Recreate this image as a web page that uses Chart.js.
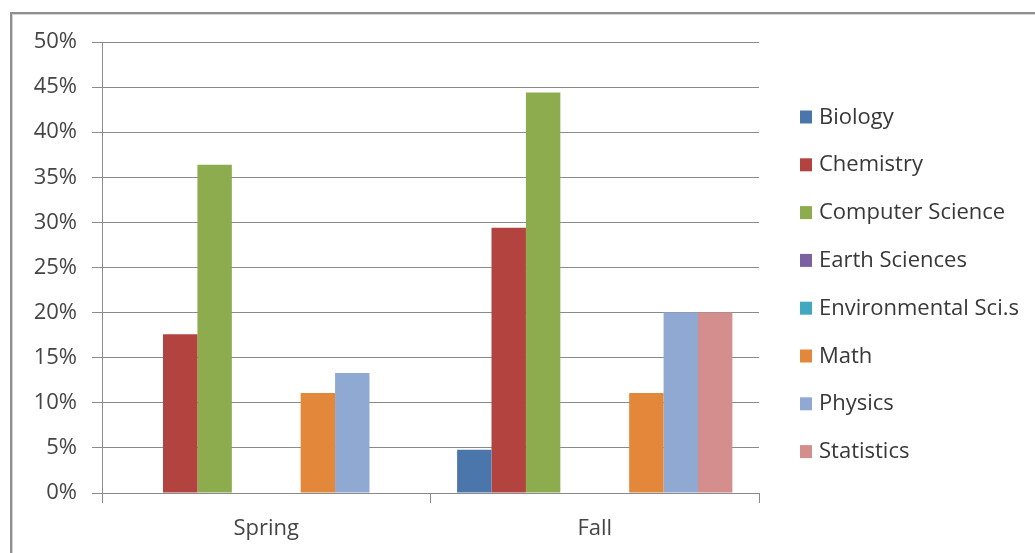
<!DOCTYPE html>
<html>
<head>
<meta charset="utf-8">
<title>Enrollment share by subject</title>
<script src="https://cdn.jsdelivr.net/npm/chart.js@4/dist/chart.umd.min.js"></script>
<style>
  html, body { margin: 0; padding: 0; background: #ffffff; overflow: hidden; }
  #wrap { position: relative; width: 1035px; height: 553px; overflow: hidden; }
  #frame {
    position: absolute; left: 10px; top: 12px; width: 1100px; height: 700px;
    border-left: 2px solid #8f8f8f; border-top: 2px solid #8f8f8f;
    box-shadow: inset 1px 1px 0 #d4d4d4;
  }
  #chart { position: absolute; left: 0; top: 0; }
</style>
</head>
<body>
<div id="wrap">
  <div id="frame"></div>
  <canvas id="chart" width="1035" height="553"></canvas>
</div>
<script>
// Terms shown along the horizontal axis
const terms = ['Spring', 'Fall'];

// Subjects (one bar series each)
const subjects = [
  'Biology', 'Chemistry', 'Computer Science', 'Earth Sciences',
  'Environmental Sci.s', 'Math', 'Physics', 'Statistics'
];

// Share of students per subject, in percent, for each term
const springShare = [0, 17.6, 36.4, 0, 0, 11.1, 13.3, 0];
const fallShare   = [4.8, 29.4, 44.4, 0, 0, 11.1, 20.0, 20.0];

// Value axis ticks
const yMin = 0;
const yMax = 50;
const yStep = 5;

// Series colours
const subjectColors = [
  '#4a76ac', '#b2433f', '#8cac4e', '#7c60a0',
  '#41a8be', '#e3883b', '#8fa9d3', '#d48e8d'
];

const FONT = "'Open Sans', 'DejaVu Sans', sans-serif";
const GRID = '#8a8a8a';
const TEXT = '#454545';

const datasets = subjects.map((name, i) => ({
  label: name,
  data: [springShare[i], fallShare[i]],
  backgroundColor: subjectColors[i],
  borderWidth: 0,
  barPercentage: 1.0,
  categoryPercentage: 0.838
}));

// Legend drawn at the right of the plot: square swatch plus label
const sideLegend = {
  id: 'sideLegend',
  afterDraw(chart) {
    const ctx = chart.ctx;
    ctx.save();
    ctx.font = '22px ' + FONT;
    ctx.textAlign = 'left';
    ctx.textBaseline = 'alphabetic';
    chart.data.datasets.forEach((ds, i) => {
      const rowTop = 110.5 + i * 47.8;
      ctx.fillStyle = ds.backgroundColor;
      ctx.fillRect(800, rowTop, 12, 13);
      ctx.fillStyle = '#383838';
      ctx.fillText(ds.label, 819, rowTop + 13);
    });
    ctx.restore();
  }
};

new Chart(document.getElementById('chart'), {
  type: 'bar',
  data: { labels: terms, datasets },
  plugins: [sideLegend],
  options: {
    responsive: false,
    animation: false,
    layout: { padding: { left: 33, top: 42, right: 276, bottom: 0 } },
    plugins: {
      legend: { display: false },
      tooltip: { enabled: false },
      title: { display: false }
    },
    scales: {
      x: {
        grid: {
          offset: true,
          drawOnChartArea: false,
          drawTicks: true,
          tickLength: 10,
          color: GRID,
          lineWidth: 1
        },
        border: { color: GRID, width: 1 },
        ticks: {
          font: { family: FONT, size: 22 },
          color: TEXT,
          padding: 13
        },
        afterFit(scale) { scale.height = 60; }
      },
      y: {
        min: yMin,
        max: yMax,
        grid: {
          color: GRID,
          lineWidth: 1,
          tickLength: 10
        },
        border: { color: GRID, width: 1 },
        ticks: {
          stepSize: yStep,
          font: { family: FONT, size: 22 },
          color: TEXT,
          padding: 15,
          callback: v => v + '%'
        },
        afterFit(scale) { scale.width = 69; }
      }
    }
  }
});
</script>
</body>
</html>
